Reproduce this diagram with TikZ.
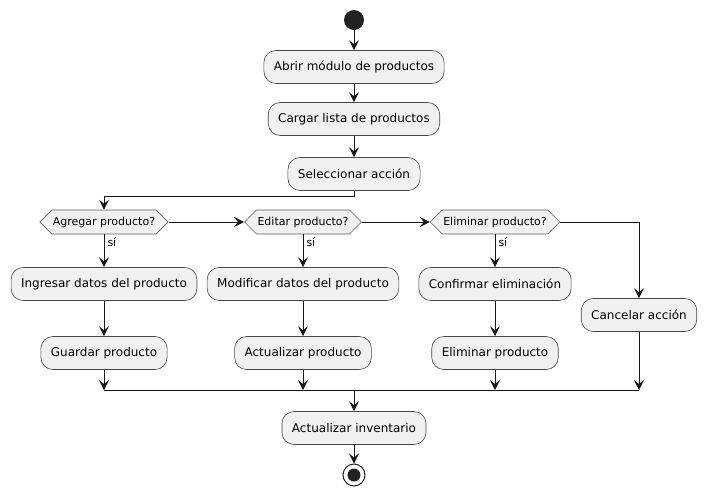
\documentclass[tikz,border=0pt]{standalone}
\usepackage{fontspec}
\setmainfont{DejaVu Sans}
\usetikzlibrary{arrows.meta,shapes.symbols}
\definecolor{boxfill}{HTML}{F1F1F1}
\definecolor{ink}{HTML}{181818}
\definecolor{dot}{HTML}{222222}
\begin{document}
\begin{tikzpicture}[x=1pt,y=-1pt,
  act/.style={draw=ink!80, line width=0.6pt, fill=boxfill, rounded corners=12pt,
    minimum height=33pt, inner xsep=10pt, inner ysep=2pt, font=\fontsize{12}{14}\selectfont, text=black},
  dec/.style={draw=ink!70, line width=0.6pt, fill=boxfill, shape=signal, signal to=east and west,
    signal pointer angle=90, minimum height=24pt, inner xsep=1pt, inner ysep=2pt,
    font=\fontsize{11}{13}\selectfont, text=black},
  flow/.style={draw=ink, line width=1pt, -{Stealth[length=10pt,width=10pt,inset=4pt]}},
  plain/.style={draw=ink, line width=1pt},
  lbl/.style={font=\fontsize{11}{13}\selectfont, inner sep=0pt, anchor=west}]
\useasboundingbox (0,0) rectangle (707,496);

\node[circle, fill=dot, minimum size=20pt, inner sep=0pt] (start) at (354,20) {};
\node[act] (abrir) at (354,67) {Abrir módulo de productos};
\node[act] (cargar) at (354,119) {Cargar lista de productos};
\node[act] (sel) at (354,174) {Seleccionar acción};

\node[dec] (d1) at (104,222) {Agregar producto?};
\node[dec] (d2) at (303,222) {Editar producto?};
\node[dec] (d3) at (495,222) {Eliminar producto?};

\node[act] (ing) at (104,284) {Ingresar datos del producto};
\node[act] (guar) at (104,353) {Guardar producto};
\node[act] (mod) at (303,284) {Modificar datos del producto};
\node[act] (actp) at (303,353) {Actualizar producto};
\node[act] (conf) at (495,284) {Confirmar eliminación};
\node[act] (elim) at (495,353) {Eliminar producto};
\node[act] (canc) at (639,315) {Cancelar acción};

\coordinate (mL) at (104,390);
\coordinate (mR) at (639,390);
\coordinate (merge) at (354,390);
\node[act] (inv) at (354,428) {Actualizar inventario};
\node[circle, draw=dot, line width=1pt, fill=white, minimum size=22pt, inner sep=0pt] (stop) at (354,475) {};
\node[circle, fill=dot, minimum size=13pt, inner sep=0pt] (stopin) at (stop.center) {};

\draw[flow] (start) -- (abrir);
\draw[flow] (abrir) -- (cargar);
\draw[flow] (cargar) -- (sel);
\draw[flow] (sel.south) -- ++(0,6) -| (d1.north);

\draw[flow] (d1.east) -- (d2.west);
\draw[flow] (d2.east) -- (d3.west);
\draw[flow] (d3.east) -| (canc.north);

\draw[flow] (d1.south) -- node[lbl, pos=0.25, xshift=3pt] {sí} (ing.north);
\draw[flow] (d2.south) -- node[lbl, pos=0.25, xshift=3pt] {sí} (mod.north);
\draw[flow] (d3.south) -- node[lbl, pos=0.25, xshift=3pt] {sí} (conf.north);

\draw[flow] (ing) -- (guar);
\draw[flow] (mod) -- (actp);
\draw[flow] (conf) -- (elim);

\draw[flow] (guar.south) -- (guar.south |- mL);
\draw[flow] (actp.south) -- (actp.south |- mL);
\draw[flow] (elim.south) -- (elim.south |- mL);
\draw[flow] (canc.south) -- (canc.south |- mR);
\draw[plain] (mL) -- (mR);

\draw[flow] (merge) -- (inv);
\draw[flow] (inv) -- (stop);
\end{tikzpicture}
\end{document}
